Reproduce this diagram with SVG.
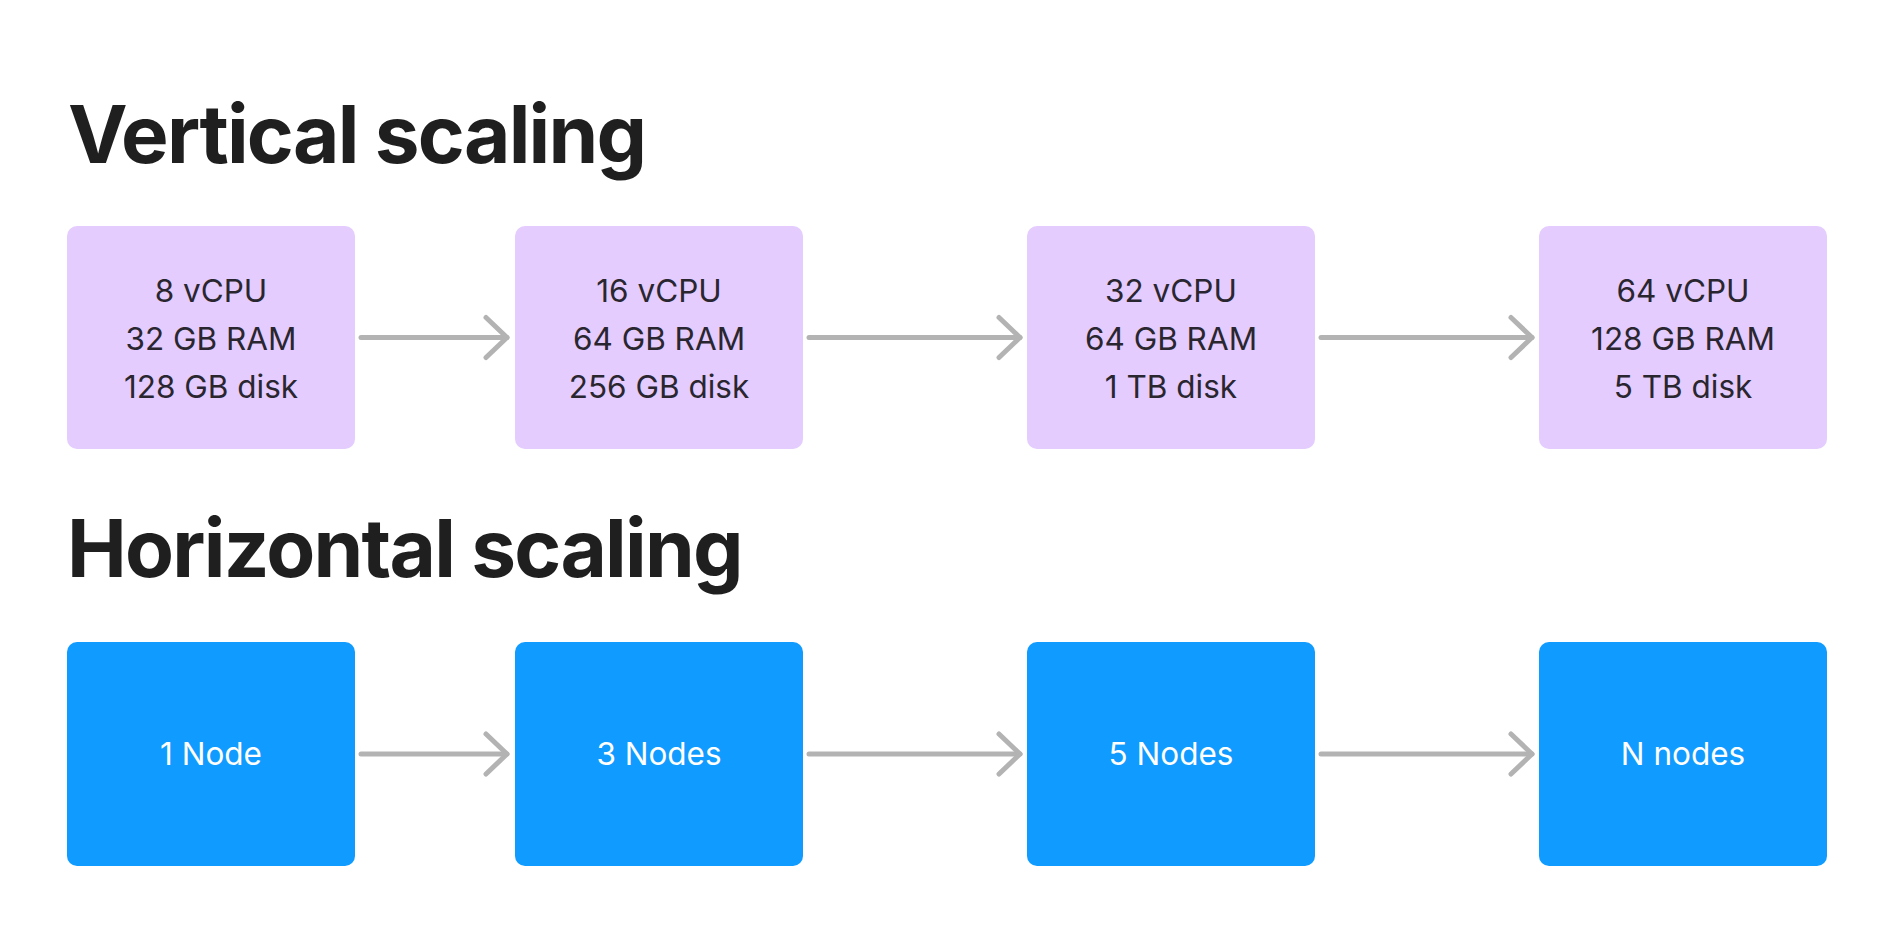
<svg xmlns="http://www.w3.org/2000/svg" width="1897" height="951" viewBox="0 0 1897 951">
  <style>
    .title { font-family: Inter, "Noto Sans", "Liberation Sans", sans-serif; font-weight: 700; font-size: 80px; fill: #1f1f1f; letter-spacing: -1.75px; }
    .vbox { fill: #e4ccfe; }
    .hbox { fill: #0f9bff; }
    .vtxt { font-family: Inter, "Noto Sans", "Liberation Sans", sans-serif; font-size: 31.5px; fill: #2a2630; text-anchor: middle; }
    .htxt { font-family: Inter, "Noto Sans", "Liberation Sans", sans-serif; font-size: 31.5px; fill: #ffffff; text-anchor: middle; }
    .conn { fill: none; stroke: #b3b3b3; stroke-width: 5; stroke-linecap: round; marker-end: url(#chev); }
  </style>
  <defs>
    <marker id="chev" markerUnits="userSpaceOnUse" viewBox="-28 -26 32 52" markerWidth="32" markerHeight="52" refX="0" refY="0" orient="auto" overflow="visible">
      <path d="M-21 -20 L0 0 L-21 20" fill="none" stroke="#b3b3b3" stroke-width="5" stroke-linecap="round" stroke-linejoin="round"/>
    </marker>
  </defs>
  <rect width="1897" height="951" fill="#ffffff"/>

  <text class="title" x="68" y="163">Vertical scaling</text>
  <text class="title" x="67" y="577">Horizontal scaling</text>

  <g id="v1">
    <rect class="vbox" x="67" y="226" width="288" height="223" rx="10"/>
    <text class="vtxt" x="211" y="302">8 vCPU</text>
    <text class="vtxt" x="211" y="350">32 GB RAM</text>
    <text class="vtxt" x="211" y="398">128 GB disk</text>
  </g>
  <g id="v2">
    <rect class="vbox" x="515" y="226" width="288" height="223" rx="10"/>
    <text class="vtxt" x="659" y="302">16 vCPU</text>
    <text class="vtxt" x="659" y="350">64 GB RAM</text>
    <text class="vtxt" x="659" y="398">256 GB disk</text>
  </g>
  <g id="v3">
    <rect class="vbox" x="1027" y="226" width="288" height="223" rx="10"/>
    <text class="vtxt" x="1171" y="302">32 vCPU</text>
    <text class="vtxt" x="1171" y="350">64 GB RAM</text>
    <text class="vtxt" x="1171" y="398">1 TB disk</text>
  </g>
  <g id="v4">
    <rect class="vbox" x="1539" y="226" width="288" height="223" rx="10"/>
    <text class="vtxt" x="1683" y="302">64 vCPU</text>
    <text class="vtxt" x="1683" y="350">128 GB RAM</text>
    <text class="vtxt" x="1683" y="398">5 TB disk</text>
  </g>

  <g id="h1">
    <rect class="hbox" x="67" y="642" width="288" height="224" rx="10"/>
    <text class="htxt" x="211" y="765">1 Node</text>
  </g>
  <g id="h2">
    <rect class="hbox" x="515" y="642" width="288" height="224" rx="10"/>
    <text class="htxt" x="659" y="765">3 Nodes</text>
  </g>
  <g id="h3">
    <rect class="hbox" x="1027" y="642" width="288" height="224" rx="10"/>
    <text class="htxt" x="1171" y="765">5 Nodes</text>
  </g>
  <g id="h4">
    <rect class="hbox" x="1539" y="642" width="288" height="224" rx="10"/>
    <text class="htxt" x="1683" y="765">N nodes</text>
  </g>

  <g id="connectors">
    <path class="conn" d="M361 337.5 H507"/>
    <path class="conn" d="M809 337.5 H1020"/>
    <path class="conn" d="M1321 337.5 H1532"/>
    <path class="conn" d="M361 754 H507"/>
    <path class="conn" d="M809 754 H1020"/>
    <path class="conn" d="M1321 754 H1532"/>
  </g>
</svg>
